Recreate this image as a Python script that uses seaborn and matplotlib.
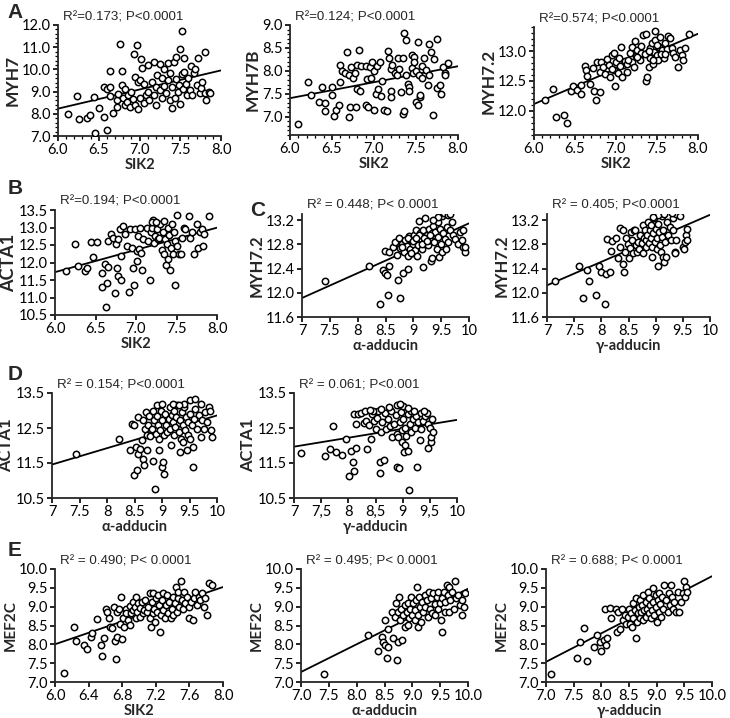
import numpy as np
import matplotlib
matplotlib.use("Agg")
import matplotlib.pyplot as plt
import seaborn as sns
from matplotlib.ticker import FixedLocator, MultipleLocator, FuncFormatter

# ---- data (one list per axis per panel) ----
# A1: MYH7 vs SIK2
a1_sik2 = [6.12, 6.23, 6.26, 6.36, 6.39, 6.44, 6.45, 6.50, 6.56, 6.60, 6.56, 6.60, 6.64, 6.64, 6.64, 6.68,
           6.72, 6.72, 6.74, 6.76, 6.78, 6.78, 6.80, 6.82, 6.82, 6.85, 6.86, 6.88, 6.90, 6.92, 6.93, 6.95,
           6.95, 6.97, 6.98, 6.98, 7.00, 7.00, 7.02, 7.03, 7.05, 7.05, 7.08, 7.10, 7.10, 7.12,
           7.15, 7.18, 7.18, 7.20, 7.20, 7.22, 7.25, 7.25, 7.27, 7.28, 7.30, 7.30, 7.32, 7.35, 7.35, 7.37,
           7.38, 7.40, 7.40, 7.42, 7.43, 7.45, 7.45, 7.47, 7.48, 7.50, 7.50, 7.52, 7.52, 7.53, 7.55, 7.55,
           7.57, 7.58, 7.60, 7.62, 7.63, 7.65, 7.67, 7.68, 7.70, 7.72, 7.74, 7.75, 7.77, 7.80, 7.80, 7.82,
           7.85, 7.87]
a1_myh7 = [8.00, 8.78, 7.75, 7.80, 7.93, 8.75, 7.12, 8.28, 7.85, 7.25, 9.22, 9.12, 9.20, 9.95, 8.80, 8.05,
           8.30, 8.60, 8.90, 11.15, 9.95, 9.30, 8.70, 8.40, 9.10, 8.55, 8.85, 8.30, 9.00, 8.65, 10.70, 9.65,
           8.40, 11.10, 8.20, 9.45, 8.70, 9.50, 10.45, 10.05, 8.50, 9.35, 8.85, 10.20, 9.00, 8.60,
           9.45, 10.35, 8.85, 9.20, 8.40, 9.75, 10.25, 9.05, 8.70, 9.60, 10.00, 9.25, 8.95, 9.50, 10.30, 8.60,
           9.85, 8.25, 9.20, 10.35, 8.70, 9.55, 10.55, 9.00, 9.30, 10.90, 8.45, 11.72, 9.80, 9.10, 10.50, 9.90,
           9.35, 8.85, 9.60, 9.05, 10.15, 8.85, 9.85, 10.00, 9.30, 10.50, 8.95, 9.15, 9.45, 10.80, 8.95, 8.60,
           9.00, 8.95]

# A2: MYH7B vs SIK2
a2_sik2 = [6.10, 6.22, 6.25, 6.35, 6.38, 6.42, 6.42, 6.50, 6.50, 6.52, 6.55, 6.58, 6.60, 6.60, 6.62, 6.65,
           6.68, 6.70, 6.70, 6.72, 6.73, 6.75, 6.77, 6.78, 6.80, 6.80, 6.82, 6.83, 6.85, 6.90, 6.90, 6.92,
           6.93, 6.95, 6.97, 6.98, 7.00, 7.00, 7.02, 7.03, 7.05, 7.07, 7.08, 7.10, 7.12, 7.15, 7.17, 7.18,
           7.20, 7.20, 7.20, 7.22, 7.25, 7.27, 7.28, 7.30, 7.32, 7.34, 7.35, 7.36, 7.36, 7.38, 7.38, 7.40,
           7.42, 7.42, 7.45, 7.45, 7.47, 7.48, 7.48, 7.50, 7.50, 7.52, 7.52, 7.53, 7.55, 7.55, 7.57, 7.57,
           7.60, 7.62, 7.64, 7.65, 7.65, 7.68, 7.70, 7.72, 7.75, 7.75, 7.78, 7.80, 7.82, 7.85, 7.85, 7.88]
a2_myh7b = [6.85, 7.75, 7.47, 7.33, 7.65, 7.12, 7.30, 7.65, 7.48, 7.02, 7.15, 7.25, 8.12, 7.75, 8.00, 7.95,
            8.42, 7.00, 7.90, 7.22, 8.08, 7.85, 7.95, 7.22, 7.60, 8.12, 8.45, 7.55, 8.10, 8.10, 7.25, 7.82,
            7.20, 8.08, 7.85, 8.20, 7.15, 8.00, 7.50, 8.10, 7.60, 8.20, 7.45, 7.78, 7.15, 7.12, 8.43, 8.28,
            7.55, 7.42, 8.05, 8.12, 7.95, 7.90, 8.27, 8.05, 7.53, 8.28, 7.05, 7.13, 8.82, 8.68, 7.92, 7.72,
            7.65, 7.55, 8.35, 8.07, 7.95, 8.30, 8.20, 8.00, 7.32, 8.62, 7.25, 7.90, 7.42, 7.48, 8.10, 7.85,
            8.27, 8.02, 7.70, 8.58, 7.90, 8.42, 7.03, 8.25, 7.62, 8.70, 7.70, 7.50, 8.08, 7.95, 7.90, 8.17]

# A3: MYH7.2 vs SIK2
a3_sik2 = [6.13, 6.23, 6.27, 6.36, 6.40, 6.45, 6.47, 6.52, 6.57, 6.57, 6.62, 6.64, 6.65, 6.68, 6.72, 6.73,
           6.76, 6.77, 6.80, 6.80, 6.82, 6.84, 6.87, 6.89, 6.91, 6.93, 6.95, 6.97, 6.98, 6.99, 7.00, 7.02,
           7.04, 7.06, 7.07, 7.09, 7.11, 7.13, 7.14, 7.17, 7.19, 7.20, 7.22, 7.23, 7.24, 7.26, 7.29, 7.30,
           7.31, 7.33, 7.36, 7.36, 7.38, 7.38, 7.40, 7.41, 7.42, 7.44, 7.45, 7.46, 7.47, 7.48, 7.50, 7.51,
           7.52, 7.54, 7.56, 7.58, 7.60, 7.62, 7.64, 7.66, 7.68, 7.70, 7.72, 7.76, 7.78, 7.80, 7.82, 7.84,
           7.89, 7.35, 7.45, 7.25, 7.55, 7.15, 7.05, 6.95, 7.40, 7.50, 7.60]
a3_myh72 = [12.18, 12.37, 11.90, 11.94, 11.80, 12.34, 12.42, 12.35, 12.44, 12.29, 12.75, 12.68, 12.58, 12.45,
            12.71, 12.33, 12.19, 12.82, 12.31, 12.65, 12.82, 12.73, 12.61, 12.86, 12.77, 12.56, 12.93, 12.69,
            12.96, 12.42, 12.82, 12.64, 12.89, 13.07, 12.56, 12.76, 12.83, 12.65, 12.79, 12.96, 12.82, 13.07,
            12.73, 13.16, 12.91, 13.01, 12.85, 12.96, 13.08, 13.27, 13.29, 12.50, 12.56, 12.96, 12.73, 13.05,
            12.88, 13.13, 12.79, 12.99, 13.33, 13.19, 12.93, 12.85, 13.07, 13.23, 13.02, 12.88, 13.13, 13.03,
            13.25, 13.21, 13.05, 12.96, 12.90, 12.73, 13.01, 12.93, 12.85, 13.05, 13.28, 12.95, 12.85, 12.90,
            12.95, 12.85, 12.75, 12.70, 13.00, 13.10, 12.95]

# B: ACTA1 vs SIK2
b_sik2 = [6.14, 6.25, 6.28, 6.37, 6.40, 6.45, 6.47, 6.52, 6.58, 6.58, 6.62, 6.64, 6.63, 6.66, 6.66, 6.69,
          6.72, 6.74, 6.75, 6.76, 6.78, 6.78, 6.80, 6.81, 6.82, 6.84, 6.87, 6.89, 6.91, 6.93, 6.95, 6.96,
          6.97, 6.99, 7.01, 7.01, 7.03, 7.04, 7.05, 7.06, 7.08, 7.09, 7.13, 7.15, 7.17, 7.18, 7.20, 7.21,
          7.22, 7.24, 7.26, 7.27, 7.29, 7.30, 7.32, 7.33, 7.34, 7.35, 7.36, 7.37, 7.38, 7.40, 7.40, 7.41,
          7.42, 7.43, 7.44, 7.46, 7.48, 7.47, 7.48, 7.51, 7.53, 7.55, 7.57, 7.59, 7.61, 7.65, 7.67, 7.69,
          7.71, 7.75, 7.77, 7.79, 7.81, 7.83, 7.84, 7.90, 7.50, 7.20, 7.25]
b_acta1 = [11.75, 12.52, 11.89, 11.75, 11.85, 12.60, 12.15, 12.60, 11.70, 11.29, 11.96, 11.41, 10.72, 12.62,
           11.88, 12.81, 12.71, 11.13, 12.52, 11.83, 12.66, 11.61, 12.95, 11.51, 12.18, 13.05, 12.81, 12.47,
           11.17, 12.95, 12.42, 11.85, 11.37, 12.95, 12.33, 12.04, 12.76, 12.40, 13.00, 12.28, 11.80, 12.66,
           13.00, 12.62, 11.51, 12.86, 13.00, 13.21, 12.57, 12.76, 12.95, 12.66, 12.71, 13.10, 12.35, 12.86,
           12.23, 13.19, 12.66, 11.94, 12.52, 13.00, 12.09, 12.79, 11.80, 12.42, 13.10, 12.23, 11.37, 12.86,
           12.62, 12.47, 12.23, 12.23, 12.71, 13.00, 12.95, 13.34, 12.71, 12.86, 12.25, 13.10, 12.42, 12.86,
           12.95, 12.47, 12.81, 13.34, 13.35, 13.15, 13.15]

# C1: MYH7.2 vs alpha-adducin
c1_add = [7.42, 8.20, 8.40, 8.46, 8.49, 8.52, 8.49, 8.56, 8.55, 8.57, 8.64, 8.67, 8.70, 8.72, 8.74, 8.76,
          8.76, 8.79, 8.82, 8.84, 8.85, 8.88, 8.90, 8.91, 8.92, 8.94, 8.96, 8.97, 9.00, 9.02, 9.03, 9.04,
          9.06, 9.08, 9.09, 9.10, 9.12, 9.14, 9.15, 9.18, 9.18, 9.21, 9.21, 9.24, 9.26, 9.28, 9.30, 9.32,
          9.33, 9.34, 9.36, 9.38, 9.39, 9.42, 9.44, 9.45, 9.46, 9.48, 9.50, 9.51, 9.52, 9.54, 9.56, 9.57,
          9.59, 9.60, 9.63, 9.66, 9.69, 9.72, 9.75, 9.81, 9.84, 9.87, 9.90, 9.90, 9.92, 9.93,
          9.55, 9.62, 9.65, 9.45, 9.35, 8.90, 9.00, 9.10, 9.20, 9.30, 8.80, 8.95, 9.05, 9.15, 9.25]
c1_myh72 = [12.19, 12.44, 11.81, 12.37, 12.33, 12.29, 12.69, 12.45, 11.96, 12.67, 12.76, 12.84, 12.62, 12.21,
            12.91, 11.91, 12.74, 12.81, 12.33, 12.68, 12.87, 12.78, 12.60, 12.39, 12.94, 12.73, 12.87, 12.65,
            12.80, 12.95, 12.71, 13.03, 12.60, 12.87, 12.79, 13.18, 12.98, 12.89, 12.73, 13.03, 12.42, 13.24,
            12.88, 12.95, 12.79, 13.06, 12.87, 12.52, 12.98, 12.57, 13.11, 12.84, 13.01, 12.73, 13.16, 12.92,
            12.59, 13.06, 12.81, 13.26, 12.67, 12.98, 12.89, 13.31, 12.73, 13.09, 12.84, 13.03, 13.17, 12.95,
            12.89, 12.81, 13.01, 12.87, 13.03, 12.76, 12.68, 12.75,
            13.32, 13.28, 13.30, 13.25, 13.20, 12.90, 12.85, 12.95, 12.90, 12.95, 12.75, 12.65, 12.90, 12.80, 12.85]

# C2: MYH7.2 vs gamma-adducin
c2_add = [7.14, 7.59, 7.66, 7.73, 7.77, 7.91, 7.96, 8.00, 8.06, 8.11, 8.09, 8.16, 8.17, 8.20, 8.27, 8.31,
          8.34, 8.34, 8.39, 8.40, 8.41, 8.43, 8.46, 8.49, 8.51, 8.52, 8.55, 8.57, 8.59, 8.60, 8.62, 8.63,
          8.65, 8.68, 8.70, 8.72, 8.74, 8.76, 8.77, 8.78, 8.80, 8.82, 8.83, 8.84, 8.86, 8.88, 8.89, 8.91,
          8.92, 8.94, 8.94, 8.95, 8.97, 8.99, 9.00, 9.02, 9.03, 9.05, 9.05, 9.07, 9.08, 9.09, 9.11, 9.11,
          9.13, 9.14, 9.15, 9.17, 9.19, 9.20, 9.23, 9.26, 9.29, 9.31, 9.32, 9.35, 9.35, 9.37, 9.38, 9.45,
          9.51, 9.52, 9.54, 9.56, 9.57, 9.57, 9.00, 9.05, 9.15, 9.30, 8.95]
c2_myh72 = [12.19, 12.44, 11.92, 12.37, 12.19, 11.96, 12.44, 12.34, 11.81, 12.89, 12.31, 12.34, 12.69, 12.86,
            12.90, 12.58, 13.07, 12.76, 12.47, 13.03, 12.35, 12.68, 12.90, 12.80, 12.58, 12.74, 13.01, 12.87,
            12.66, 13.03, 13.03, 12.79, 12.68, 12.84, 12.73, 12.95, 12.82, 12.65, 13.12, 12.90, 13.03, 12.76,
            12.87, 12.95, 13.17, 12.82, 13.03, 12.90, 13.12, 12.59, 12.76, 12.98, 13.23, 12.84, 13.06, 12.90,
            12.73, 13.14, 12.44, 13.00, 12.79, 12.68, 13.26, 12.92, 12.59, 13.03, 12.51, 12.84, 12.59, 13.17,
            12.95, 13.09, 12.87, 13.03, 13.23, 12.68, 12.65, 12.87, 13.30, 13.26, 12.76, 12.73, 12.84, 12.95,
            13.06, 12.87, 13.30, 13.28, 13.30, 13.32, 13.25]

# D1: ACTA1 vs alpha-adducin
d1_add = [7.43, 8.21, 8.41, 8.45, 8.49, 8.49, 8.53, 8.54, 8.56, 8.57, 8.60, 8.63, 8.65, 8.66, 8.67, 8.69,
          8.71, 8.72, 8.73, 8.75, 8.77, 8.78, 8.81, 8.83, 8.84, 8.86, 8.87, 8.89, 8.91, 8.92, 8.94, 8.95,
          8.97, 8.98, 9.00, 9.00, 9.01, 9.03, 9.04, 9.06, 9.08, 9.09, 9.12, 9.14, 9.15, 9.16, 9.18, 9.20,
          9.21, 9.22, 9.24, 9.26, 9.27, 9.30, 9.32, 9.33, 9.34, 9.36, 9.38, 9.39, 9.40, 9.42, 9.44, 9.45,
          9.47, 9.48, 9.50, 9.51, 9.54, 9.56, 9.57, 9.59, 9.60, 9.64, 9.67, 9.70, 9.73, 9.76, 9.79, 9.82,
          9.85, 9.88, 9.89, 9.91, 9.50, 9.60, 9.40, 9.20, 9.70, 9.30, 8.90, 9.00]
d1_acta1 = [11.77, 12.20, 11.88, 12.62, 12.60, 11.15, 11.96, 11.29, 11.77, 12.81, 11.90, 12.15, 11.62, 12.72,
            11.43, 12.48, 12.96, 11.86, 12.31, 12.60, 12.85, 12.27, 12.48, 11.55, 13.00, 12.72, 10.77, 12.34,
            12.85, 12.58, 12.20, 11.86, 12.43, 13.00, 11.39, 12.72, 11.53, 12.29, 11.20, 12.90, 12.58, 12.39,
            12.77, 13.10, 12.48, 12.02, 12.86, 12.67, 12.29, 13.00, 12.53, 12.81, 13.15, 12.39, 11.81, 12.72,
            12.20, 12.96, 12.58, 12.10, 13.10, 12.43, 12.81, 11.86, 12.29, 12.67, 12.90, 12.20, 12.58, 11.39,
            11.96, 12.77, 13.05, 12.48, 12.86, 12.24, 12.72, 12.48, 12.96, 12.67, 13.10, 13.00, 12.43, 12.24,
            13.30, 13.32, 13.20, 13.20, 13.20, 13.15, 13.15, 13.20]

# D2: ACTA1 vs gamma-adducin
d2_add = [7.13, 7.57, 7.66, 7.72, 7.78, 7.89, 7.96, 8.01, 8.05, 8.09, 8.11, 8.11, 8.15, 8.18, 8.15, 8.23,
          8.29, 8.32, 8.35, 8.38, 8.41, 8.44, 8.48, 8.50, 8.52, 8.55, 8.58, 8.58, 8.61, 8.62, 8.66, 8.67,
          8.70, 8.73, 8.76, 8.79, 8.81, 8.84, 8.87, 8.89, 8.90, 8.92, 8.93, 8.95, 8.97, 8.98, 8.99, 9.01,
          9.03, 9.04, 9.05, 9.07, 9.09, 9.10, 9.11, 9.13, 9.15, 9.16, 9.19, 9.22, 9.25, 9.27, 9.28, 9.31,
          9.33, 9.34, 9.38, 9.41, 9.44, 9.46, 9.47, 9.50, 9.52, 9.53, 9.54, 9.56,
          8.45, 8.60, 8.75, 8.90, 9.00, 9.10, 8.30, 8.40, 9.20, 9.40, 8.95]
d2_acta1 = [11.78, 11.71, 11.90, 12.55, 11.82, 11.73, 12.18, 11.13, 11.84, 11.52, 11.28, 12.89, 11.93, 12.89,
            12.61, 12.92, 12.64, 12.70, 11.90, 12.59, 12.18, 12.89, 12.70, 12.47, 12.80, 12.98, 11.52, 11.22,
            12.38, 12.66, 11.59, 12.94, 12.47, 12.75, 12.56, 12.98, 12.24, 12.61, 12.86, 12.34, 11.40, 12.24,
            11.37, 12.66, 12.96, 12.43, 12.10, 12.77, 11.82, 12.51, 12.02, 12.27, 12.89, 11.84, 10.73, 12.61,
            12.38, 12.98, 12.75, 12.51, 12.84, 11.40, 12.66, 12.15, 12.47, 12.94, 12.71, 12.84, 12.94, 12.61,
            11.93, 12.51, 12.10, 12.24, 12.75, 12.38,
            13.00, 13.05, 13.10, 13.15, 13.12, 13.08, 13.00, 13.02, 13.00, 13.00, 13.20]

# E1: MEF2C vs SIK2
e1_sik2 = [6.11, 6.23, 6.25, 6.34, 6.38, 6.43, 6.44, 6.50, 6.55, 6.56, 6.58, 6.61, 6.62, 6.64, 6.65, 6.68,
           6.70, 6.72, 6.73, 6.74, 6.74, 6.76, 6.77, 6.78, 6.80, 6.81, 6.82, 6.84, 6.85, 6.87, 6.89, 6.89,
           6.91, 6.93, 6.93, 6.95, 6.97, 6.97, 6.98, 6.99, 7.01, 7.01, 7.03, 7.05, 7.06, 7.07, 7.09, 7.11,
           7.13, 7.13, 7.14, 7.15, 7.17, 7.17, 7.18, 7.19, 7.20, 7.21, 7.23, 7.24, 7.25, 7.26, 7.27, 7.28,
           7.29, 7.31, 7.32, 7.33, 7.35, 7.36, 7.38, 7.39, 7.40, 7.41, 7.43, 7.44, 7.45, 7.46, 7.47, 7.48,
           7.50, 7.51, 7.52, 7.54, 7.55, 7.57, 7.59, 7.60, 7.62, 7.64, 7.66, 7.67, 7.69, 7.71, 7.73, 7.75,
           7.77, 7.81, 7.83, 7.87, 7.78]
e1_mef2c = [7.25, 8.46, 8.08, 7.98, 7.87, 8.20, 8.29, 8.67, 7.99, 7.69, 8.17, 8.95, 8.86, 8.69, 8.46, 8.44,
            9.00, 8.08, 7.60, 8.20, 8.86, 8.95, 8.55, 9.26, 8.15, 8.69, 8.46, 8.95, 8.82, 8.64, 9.02, 8.51,
            8.82, 9.13, 8.91, 9.00, 8.69, 9.26, 8.86, 9.09, 8.73, 8.97, 9.13, 8.82, 8.91, 9.17, 8.86, 9.00,
            9.35, 8.69, 8.46, 9.13, 8.82, 9.35, 8.95, 8.60, 9.22, 8.86, 9.31, 9.04, 8.33, 8.77, 9.17, 9.35,
            8.91, 8.69, 9.04, 9.31, 8.82, 9.13, 8.69, 8.95, 9.26, 8.77, 9.09, 9.53, 8.86, 9.22, 9.40, 9.00,
            9.68, 9.17, 8.95, 9.40, 9.09, 9.26, 9.00, 8.69, 9.13, 8.64, 9.22, 9.40, 9.04, 9.26, 9.17, 9.35,
            9.00, 8.77, 9.62, 9.57, 9.22]

# E2: MEF2C vs alpha-adducin
e2_add = [7.41, 8.20, 8.39, 8.45, 8.48, 8.50, 8.51, 8.54, 8.56, 8.57, 8.63, 8.65, 8.68, 8.70, 8.72, 8.74,
          8.75, 8.76, 8.78, 8.80, 8.82, 8.84, 8.86, 8.87, 8.90, 8.92, 8.93, 8.94, 8.96, 8.98, 8.99, 9.02,
          9.04, 9.05, 9.06, 9.08, 9.10, 9.11, 9.12, 9.14, 9.16, 9.17, 9.20, 9.22, 9.23, 9.26, 9.28, 9.30,
          9.32, 9.34, 9.35, 9.38, 9.40, 9.41, 9.44, 9.46, 9.47, 9.50, 9.52, 9.53, 9.54, 9.56, 9.58, 9.59,
          9.62, 9.64, 9.65, 9.66, 9.68, 9.71, 9.74, 9.76, 9.78, 9.82, 9.86, 9.89, 9.90, 9.92, 9.94]
e2_mef2c = [7.20, 8.26, 7.82, 8.20, 8.07, 8.64, 7.98, 7.65, 7.93, 8.42, 8.86, 8.17, 8.73, 9.09, 7.58, 8.86,
            8.05, 9.26, 8.64, 8.95, 8.11, 8.77, 9.04, 8.46, 8.86, 8.51, 9.09, 8.69, 8.95, 9.26, 8.77, 9.09,
            8.64, 8.91, 9.17, 9.53, 8.46, 8.77, 9.26, 9.00, 8.60, 9.13, 8.86, 9.31, 9.00, 9.17, 8.73, 9.40,
            8.95, 9.22, 8.82, 9.35, 9.06, 8.77, 9.26, 8.95, 9.40, 9.09, 8.64, 9.22, 8.33, 9.40, 8.86, 9.13,
            9.57, 9.31, 8.86, 9.53, 9.17, 9.40, 8.95, 9.68, 9.22, 9.31, 9.04, 9.17, 8.77, 9.00, 9.35]

# E3: MEF2C vs gamma-adducin
e3_add = [7.09, 7.56, 7.62, 7.68, 7.74, 7.86, 7.92, 7.97, 8.00, 8.04, 8.06, 8.08, 8.10, 8.15, 8.18, 8.26,
          8.28, 8.30, 8.33, 8.38, 8.39, 8.42, 8.45, 8.48, 8.50, 8.51, 8.54, 8.56, 8.57, 8.58, 8.60, 8.62,
          8.63, 8.64, 8.66, 8.68, 8.69, 8.70, 8.72, 8.74, 8.75, 8.76, 8.78, 8.80, 8.81, 8.82, 8.84, 8.86,
          8.87, 8.88, 8.90, 8.92, 8.93, 8.94, 8.96, 8.98, 8.99, 9.00, 9.02, 9.04, 9.05, 9.06, 9.08, 9.10,
          9.12, 9.14, 9.17, 9.20, 9.22, 9.24, 9.26, 9.28, 9.29, 9.32, 9.35, 9.38, 9.41, 9.44, 9.47, 9.50,
          9.52, 9.53, 9.54]
e3_mef2c = [7.20, 7.64, 8.05, 8.44, 7.56, 7.93, 8.26, 8.05, 7.82, 8.11, 8.95, 7.98, 8.17, 8.97, 8.69, 8.95,
            8.33, 8.86, 8.42, 8.95, 8.64, 8.77, 8.55, 8.73, 8.95, 8.55, 8.82, 8.46, 9.09, 8.69, 8.91, 8.17,
            9.22, 8.60, 8.82, 9.00, 8.69, 9.17, 8.86, 9.04, 8.64, 9.31, 8.91, 8.73, 9.13, 8.95, 9.40, 8.82,
            9.22, 9.04, 8.69, 8.91, 9.50, 9.13, 8.77, 9.31, 9.00, 8.60, 9.17, 8.86, 9.35, 9.06, 8.73, 9.26,
            8.95, 9.57, 9.17, 8.86, 9.35, 9.04, 9.57, 9.26, 8.95, 9.13, 8.86, 9.40, 8.86, 9.13, 9.35, 9.68,
            9.26, 9.53, 9.40]

# ---- style ----
sns.set_style("ticks")
plt.rcParams["font.family"] = ["Lato", "DejaVu Sans"]
plt.rcParams["axes.linewidth"] = 1.3
plt.rcParams["xtick.major.width"] = 1.2
plt.rcParams["ytick.major.width"] = 1.2
plt.rcParams["xtick.major.size"] = 3.5
plt.rcParams["ytick.major.size"] = 3.5
plt.rcParams["xtick.major.pad"] = 1.5
plt.rcParams["ytick.major.pad"] = 1.5
plt.rcParams["xtick.color"] = "black"
plt.rcParams["ytick.color"] = "black"

W, H = 730, 718
fig = plt.figure(figsize=(W / 100, H / 100), dpi=100)


def px_axes(l, t, r, b):
    return fig.add_axes([l / W, 1 - b / H, (r - l) / W, (b - t) / H])


def fmt(decimals, comma=False):
    def f(v, pos):
        if decimals is None:
            s = ("%.1f" % v).rstrip("0").rstrip(".")
        else:
            s = "%.*f" % (decimals, v)
        return s.replace(".", ",") if comma else s
    return FuncFormatter(f)


def panel(rect, x, y, xlim, ylim, xticks, yticks, xlabel, ylabel, stat,
          xfmt=1, yfmt=1, comma=False, minor_x=None, minor_y=None, ysize=12):
    ax = px_axes(*rect)
    ax.set_xlim(*xlim)
    ax.set_ylim(*ylim)
    sns.regplot(x=x, y=y, ax=ax, ci=None, truncate=False, color="black",
                scatter_kws=dict(s=21, facecolors="white", edgecolors="black",
                                 linewidths=1.1, alpha=1, zorder=3),
                line_kws=dict(color="black", lw=1.3, zorder=2))
    ax.set_xlim(*xlim)
    ax.set_ylim(*ylim)
    ax.xaxis.set_major_locator(FixedLocator(xticks))
    ax.yaxis.set_major_locator(FixedLocator(yticks))
    ax.xaxis.set_major_formatter(fmt(xfmt, comma))
    ax.yaxis.set_major_formatter(fmt(yfmt))
    if minor_x:
        ax.xaxis.set_minor_locator(MultipleLocator(minor_x))
    if minor_y:
        ax.yaxis.set_minor_locator(MultipleLocator(minor_y))
    ax.tick_params(which="minor", length=2, width=0.9)
    ax.tick_params(labelsize=10.5)
    ax.set_xlabel(xlabel, fontsize=10.5, fontweight="bold", labelpad=1)
    ax.set_ylabel(ylabel, fontsize=ysize, fontweight="bold", labelpad=1)
    for s in ("top", "right"):
        ax.spines[s].set_visible(False)
    ax.patch.set_alpha(0)
    l, t = rect[0], rect[1]
    fig.text((l + 5) / W, 1 - (t - 8) / H, stat, fontsize=9.6,
             family="Liberation Sans", va="center", ha="left")
    return ax


alpha_lab = "\u03b1-adducin"
gamma_lab = "\u03b3-adducin"
add_ticks = [7, 7.5, 8, 8.5, 9, 9.5, 10]

panel((58, 25, 221, 136), a1_sik2, a1_myh7, (6, 8), (7, 12), np.arange(6, 8.01, 0.5),
      np.arange(7, 12.01, 1.0), "SIK2", "MYH7", "R\u00b2=0.173; P<0.0001",
      minor_x=0.1, minor_y=0.2, ysize=12.5)
panel((290, 25, 458, 135), a2_sik2, a2_myh7b, (6, 8), (6.6, 9.0), np.arange(6, 8.01, 0.5),
      np.arange(7, 9.01, 0.5), "SIK2", "MYH7B", "R\u00b2=0.124; P<0.0001",
      minor_x=0.1, minor_y=0.1, ysize=12.5)
panel((534, 27, 698, 135), a3_sik2, a3_myh72, (6, 8), (11.6, 13.4), np.arange(6, 8.01, 0.5),
      [12.0, 12.5, 13.0], "SIK2", "MYH7.2", "R\u00b2=0.574; P<0.0001",
      minor_x=0.1, minor_y=0.1, ysize=12.5)

panel((55, 210, 217, 315), b_sik2, b_acta1, (6, 8), (10.5, 13.5), np.arange(6, 8.01, 0.5),
      np.arange(10.5, 13.51, 0.5), "SIK2", "ACTA1", "R\u00b2=0.194; P<0.0001", ysize=13)
panel((302, 214, 469, 317), c1_add, c1_myh72, (7, 10), (11.6, 13.3), add_ticks,
      [11.6, 12.0, 12.4, 12.8, 13.2], alpha_lab, "MYH7.2", "R\u00b2 = 0.448; P< 0.0001", xfmt=None)
panel((547, 214, 710, 317), c2_add, c2_myh72, (7, 10), (11.6, 13.3), add_ticks,
      [11.6, 12.0, 12.4, 12.8, 13.2], gamma_lab, "MYH7.2", "R\u00b2 = 0.405; P<0.0001", xfmt=None)

panel((52, 393, 217, 498), d1_add, d1_acta1, (7, 10), (10.5, 13.5), add_ticks,
      [10.5, 11.5, 12.5, 13.5], alpha_lab, "ACTA1", "R\u00b2 = 0.154; P<0.0001", xfmt=None)
panel((294, 393, 457, 498), d2_add, d2_acta1, (7, 10), (10.5, 13.5), add_ticks,
      [10.5, 11.5, 12.5, 13.5], gamma_lab, "ACTA1", "R\u00b2 = 0.061; P<0.001", xfmt=None, comma=True)

panel((55, 569, 223, 682), e1_sik2, e1_mef2c, (6, 8), (7, 10), np.arange(6, 8.01, 0.4),
      np.arange(7, 10.01, 0.5), "SIK2", "MEF2C", "R\u00b2 = 0.490; P< 0.0001", ysize=11)
panel((301, 569, 468, 682), e2_add, e2_mef2c, (7, 10), (7, 10), np.arange(7, 10.01, 0.5),
      np.arange(7, 10.01, 0.5), alpha_lab, "MEF2C", "R\u00b2 = 0.495; P< 0.0001", ysize=11)
panel((546, 569, 712, 682), e3_add, e3_mef2c, (7, 10), (7, 10), np.arange(7, 10.01, 0.5),
      np.arange(7, 10.01, 0.5), gamma_lab, "MEF2C", "R\u00b2 = 0.688; P< 0.0001", ysize=11)

# panel letters
for letter, (px, py) in {"A": (15, 13), "B": (15, 188), "C": (258, 210),
                         "D": (15, 374), "E": (15, 551)}.items():
    fig.text(px / W, 1 - py / H, letter, fontsize=15, fontweight="bold",
             family="Liberation Sans", ha="center", va="center")

fig.savefig("out.png", dpi=100)
